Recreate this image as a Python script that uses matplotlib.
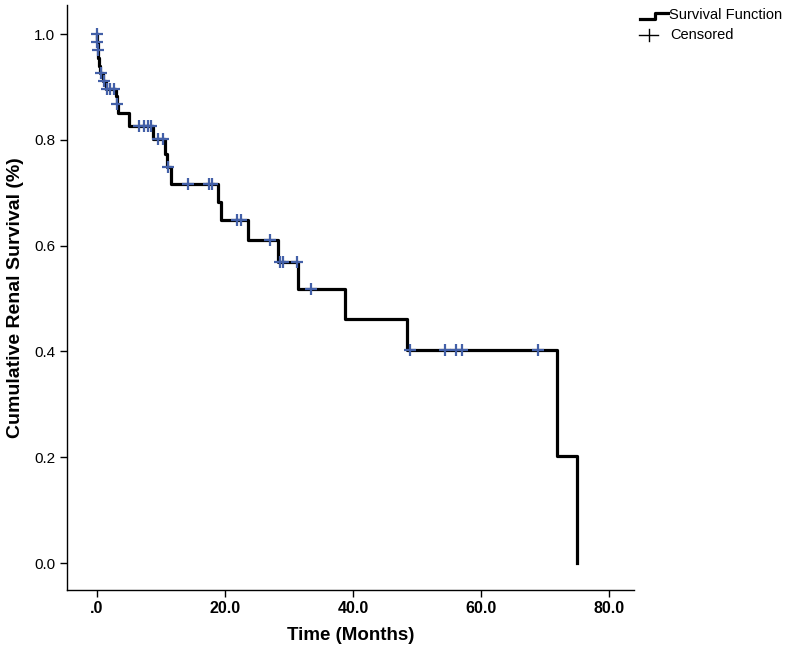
import matplotlib
matplotlib.use("Agg")
import matplotlib.pyplot as plt
from matplotlib.lines import Line2D

plt.rcParams['font.family'] = ['Liberation Sans', 'DejaVu Sans']

# Kaplan-Meier steps: time of each drop and survival after it
step_times = [0, 0.03, 0.08, 0.2, 0.3, 0.45, 0.9, 1.4, 2.9, 3.1, 3.3, 5.0, 8.8,
              10.6, 10.9, 11.6, 18.9, 19.3, 23.6, 28.3, 31.4, 38.8, 48.4, 71.9, 75.0]
step_surv = [1.0, 0.985, 0.970, 0.955, 0.940, 0.926, 0.911, 0.897, 0.883, 0.868, 0.850, 0.826, 0.801,
             0.774, 0.748, 0.716, 0.683, 0.648, 0.611, 0.569, 0.518, 0.461, 0.403, 0.202, 0.0]

# censored cases
cens_times = [0.02, 0.05, 0.12, 0.6, 1.1, 1.6, 2.1, 2.7, 3.2,
              6.6, 7.4, 8.0, 8.5, 9.5, 10.3, 11.1,
              14.2, 17.5, 18.0, 21.9, 22.5, 27.0, 28.6, 29.1, 31.2, 33.5,
              48.9, 54.4, 56.1, 57.0, 68.9]
cens_surv = [1.0, 0.985, 0.970, 0.926, 0.911, 0.897, 0.897, 0.897, 0.868,
             0.826, 0.826, 0.826, 0.826, 0.801, 0.801, 0.748,
             0.716, 0.716, 0.716, 0.648, 0.648, 0.611, 0.569, 0.569, 0.569, 0.518,
             0.403, 0.403, 0.403, 0.403, 0.403]

x_ticks = [0, 20, 40, 60, 80]
x_labels = ['.0', '20.0', '40.0', '60.0', '80.0']
y_ticks = [0.0, 0.2, 0.4, 0.6, 0.8, 1.0]
y_labels = ['0.0', '0.2', '0.4', '0.6', '0.8', '1.0']

W, H = 788, 651
fig = plt.figure(figsize=(W / 100, H / 100), dpi=100)
ax = fig.add_axes([67 / W, (H - 590) / H, (634 - 67) / W, (590 - 5) / H])

ax.step(step_times, step_surv, where='post', color='black', lw=2.3, zorder=2)
ax.plot(cens_times, cens_surv, '+', color='#4360a8', ms=8, mew=1.6, zorder=3)

ax.set_xlim(-4.69, 83.9)
ax.set_ylim(-0.051, 1.055)
ax.set_xticks(x_ticks)
ax.set_xticklabels(x_labels, fontsize=11.5, fontweight='bold')
ax.set_yticks(y_ticks)
ax.set_yticklabels(y_labels, fontsize=11)
ax.tick_params(axis='x', direction='out', length=5, width=1, pad=3)
ax.tick_params(axis='y', direction='out', length=5, width=1)

for s in ['top', 'right']:
    ax.spines[s].set_visible(False)
for s in ['left', 'bottom']:
    ax.spines[s].set_linewidth(1)

ax.set_xlabel('Time (Months)', fontsize=13.5, fontweight='bold', labelpad=8)
ax.set_ylabel('Cumulative Renal Survival (%)', fontsize=14, fontweight='bold', labelpad=7)

# legend drawn outside the axes, top right
def fx(px):
    return px / W

def fy(py):
    return 1 - py / H

fig.add_artist(Line2D([fx(640), fx(655), fx(655), fx(668)], [fy(19), fy(19), fy(12.5), fy(12.5)],
                      color='black', lw=2.3, transform=fig.transFigure))
fig.text(fx(669), fy(15), 'Survival Function', fontsize=10.5, va='center', ha='left')
fig.add_artist(Line2D([fx(639), fx(658)], [fy(35), fy(35)], color='black', lw=1, transform=fig.transFigure))
fig.add_artist(Line2D([fx(649), fx(649)], [fy(29), fy(41)], color='black', lw=1, transform=fig.transFigure))
fig.text(fx(670), fy(35), 'Censored', fontsize=10.5, va='center', ha='left')

fig.savefig('out.png', dpi=100)
